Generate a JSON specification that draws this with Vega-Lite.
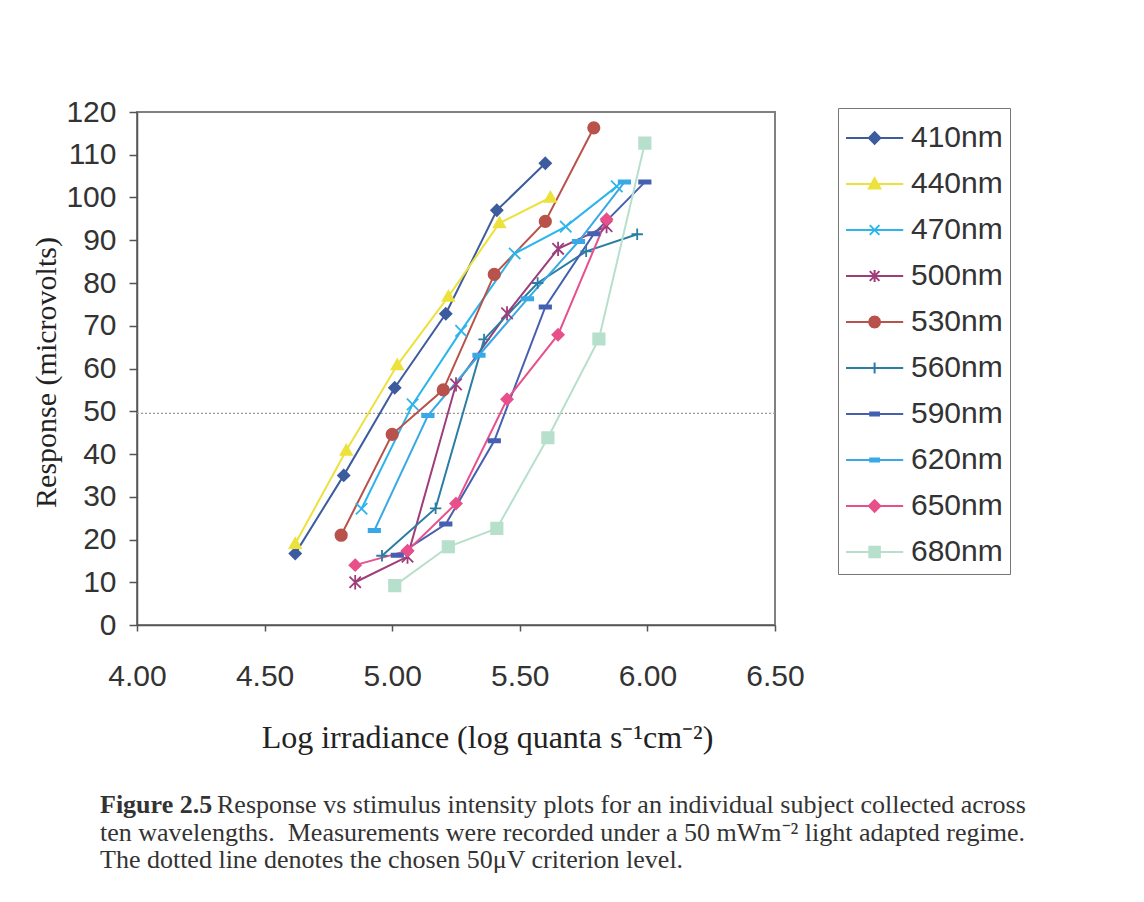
{
  "$schema": "https://vega.github.io/schema/vega-lite/v6.json",
  "width": 638,
  "height": 513,
  "autosize": {"type": "none"},
  "padding": {"left": 137, "top": 112, "right": 369, "bottom": 277},
  "background": "white",
  "config": {
    "view": {"stroke": "#808080", "strokeWidth": 2},
    "axis": {"grid": false}
  },
  "title": {
    "text": "Figure 2.5",
    "subtitle": [
      "\u200b\u00a0\u00a0\u00a0\u00a0\u00a0\u00a0\u00a0\u00a0\u00a0\u00a0\u00a0\u00a0\u00a0\u00a0\u00a0\u00a0\u00a0\u00a0Response vs stimulus intensity plots for an individual subject collected across",
      "ten wavelengths.\u00a0 Measurements were recorded under a 50 mWm\u207b\u00b2 light adapted regime.",
      "The dotted line denotes the chosen 50\u03bcV criterion level."
    ],
    "orient": "bottom",
    "anchor": "start",
    "frame": "group",
    "dx": -37,
    "offset": 39,
    "font": "Liberation Serif",
    "fontSize": 26,
    "fontWeight": "bold",
    "color": "#333333",
    "subtitleFont": "Liberation Serif",
    "subtitleFontSize": 26,
    "subtitleFontWeight": "normal",
    "subtitleColor": "#333333",
    "subtitlePadding": -26,
    "subtitleLineHeight": 27.5
  },
  "data": {
    "values": [
      {"w": "410nm", "x": 4.62, "y": 16.7}, {"w": "410nm", "x": 4.81, "y": 35.0}, {"w": "410nm", "x": 5.01, "y": 55.5}, {"w": "410nm", "x": 5.21, "y": 72.8}, {"w": "410nm", "x": 5.41, "y": 97.0}, {"w": "410nm", "x": 5.60, "y": 108.0},
      {"w": "440nm", "x": 4.62, "y": 19.0}, {"w": "440nm", "x": 4.82, "y": 40.8}, {"w": "440nm", "x": 5.02, "y": 60.8}, {"w": "440nm", "x": 5.22, "y": 76.8}, {"w": "440nm", "x": 5.42, "y": 94.0}, {"w": "440nm", "x": 5.62, "y": 100.0},
      {"w": "470nm", "x": 4.88, "y": 27.2}, {"w": "470nm", "x": 5.08, "y": 51.6}, {"w": "470nm", "x": 5.27, "y": 68.8}, {"w": "470nm", "x": 5.48, "y": 86.9}, {"w": "470nm", "x": 5.68, "y": 93.2}, {"w": "470nm", "x": 5.88, "y": 102.6},
      {"w": "500nm", "x": 4.855, "y": 10.0}, {"w": "500nm", "x": 5.06, "y": 16.0}, {"w": "500nm", "x": 5.25, "y": 56.3}, {"w": "500nm", "x": 5.45, "y": 72.9}, {"w": "500nm", "x": 5.65, "y": 88.0}, {"w": "500nm", "x": 5.84, "y": 93.3},
      {"w": "530nm", "x": 4.80, "y": 21.0}, {"w": "530nm", "x": 5.00, "y": 44.6}, {"w": "530nm", "x": 5.20, "y": 55.0}, {"w": "530nm", "x": 5.40, "y": 82.0}, {"w": "530nm", "x": 5.60, "y": 94.4}, {"w": "530nm", "x": 5.79, "y": 116.3},
      {"w": "560nm", "x": 4.96, "y": 16.2}, {"w": "560nm", "x": 5.17, "y": 27.3}, {"w": "560nm", "x": 5.36, "y": 66.8}, {"w": "560nm", "x": 5.57, "y": 80.0}, {"w": "560nm", "x": 5.76, "y": 87.4}, {"w": "560nm", "x": 5.96, "y": 91.4},
      {"w": "590nm", "x": 5.02, "y": 16.3}, {"w": "590nm", "x": 5.21, "y": 23.6}, {"w": "590nm", "x": 5.40, "y": 43.1}, {"w": "590nm", "x": 5.60, "y": 74.4}, {"w": "590nm", "x": 5.79, "y": 91.5}, {"w": "590nm", "x": 5.99, "y": 103.6},
      {"w": "620nm", "x": 4.93, "y": 22.1}, {"w": "620nm", "x": 5.14, "y": 49.0}, {"w": "620nm", "x": 5.34, "y": 63.1}, {"w": "620nm", "x": 5.53, "y": 76.3}, {"w": "620nm", "x": 5.73, "y": 89.7}, {"w": "620nm", "x": 5.91, "y": 103.6},
      {"w": "650nm", "x": 4.855, "y": 14.0}, {"w": "650nm", "x": 5.06, "y": 17.4}, {"w": "650nm", "x": 5.25, "y": 28.4}, {"w": "650nm", "x": 5.45, "y": 52.8}, {"w": "650nm", "x": 5.65, "y": 67.9}, {"w": "650nm", "x": 5.84, "y": 94.9},
      {"w": "680nm", "x": 5.01, "y": 9.2}, {"w": "680nm", "x": 5.22, "y": 18.3}, {"w": "680nm", "x": 5.41, "y": 22.6}, {"w": "680nm", "x": 5.61, "y": 43.8}, {"w": "680nm", "x": 5.81, "y": 66.9}, {"w": "680nm", "x": 5.99, "y": 112.7}
    ]
  },
  "encoding": {
    "x": {
      "field": "x", "type": "quantitative",
      "scale": {"domain": [4, 6.5], "nice": false, "zero": false},
      "axis": {
        "values": [4, 4.5, 5, 5.5, 6, 6.5], "format": ".2f", "labelFlush": false, "labelOverlap": false,
        "labelFont": "Liberation Sans", "labelFontSize": 30, "labelColor": "#333333",
        "labelPadding": 30, "tickSize": 6, "tickColor": "#555555", "tickWidth": 1.5,
        "domainColor": "#555555", "domainWidth": 1.5,
        "title": "Log irradiance (log quanta s\u207b\u00b9cm\u207b\u00b2)",
        "titleFont": "Liberation Serif", "titleFontSize": 32, "titleFontWeight": "normal", "titleColor": "#222222",
        "titleX": 350, "titleY": 122, "titleAlign": "center", "titleBaseline": "alphabetic"
      }
    },
    "y": {
      "field": "y", "type": "quantitative",
      "scale": {"domain": [0, 120], "nice": false},
      "axis": {
        "values": [0, 10, 20, 30, 40, 50, 60, 70, 80, 90, 100, 110, 120], "format": "d", "labelFlush": false, "labelOverlap": false,
        "labelFont": "Liberation Sans", "labelFontSize": 30, "labelColor": "#333333",
        "labelPadding": 13, "tickSize": 8, "tickColor": "#555555", "tickWidth": 1.5,
        "domainColor": "#555555", "domainWidth": 1.5,
        "title": "Response (microvolts)",
        "titleFont": "Liberation Serif", "titleFontSize": 30, "titleFontWeight": "normal", "titleColor": "#222222",
        "titleX": -82, "titleY": 260, "titleAngle": 270, "titleAlign": "center", "titleBaseline": "alphabetic"
      }
    }
  },
  "layer": [
    {
      "data": {"values": [{"criterion": 49.5}]},
      "mark": {"type": "rule", "strokeDash": [2, 2], "color": "#9a9a9a", "strokeWidth": 1.2},
      "encoding": {"y": {"field": "criterion", "type": "quantitative"}, "x": null}
    },
    {
      "mark": {"type": "line", "strokeWidth": 2},
      "encoding": {
        "color": {
          "field": "w", "type": "nominal", "legend": null,
          "scale": {
            "domain": ["410nm", "440nm", "470nm", "500nm", "530nm", "560nm", "590nm", "620nm", "650nm", "680nm"],
            "range": ["#3D5C9E", "#EDE13C", "#2BB5EC", "#9E3D7A", "#B8524A", "#2B7DA3", "#4660B0", "#39A9E6", "#E8508C", "#B7E0CC"]
          }
        }
      }
    },
    {
      "mark": {"type": "point", "filled": true, "opacity": 1, "size": 130, "strokeWidth": 1.8},
      "encoding": {
        "fill": {
          "field": "w", "type": "nominal", "legend": null,
          "scale": {
            "domain": ["410nm", "440nm", "470nm", "500nm", "530nm", "560nm", "590nm", "620nm", "650nm", "680nm"],
            "range": ["#3D5C9E", "#EDE13C", "#2BB5EC", "#9E3D7A", "#B8524A", "#2B7DA3", "#4660B0", "#39A9E6", "#E8508C", "#B7E0CC"]
          }
        },
        "stroke": {
          "field": "w", "type": "nominal", "legend": null,
          "scale": {
            "domain": ["410nm", "440nm", "470nm", "500nm", "530nm", "560nm", "590nm", "620nm", "650nm", "680nm"],
            "range": ["#3D5C9E", "#EDE13C", "#2BB5EC", "#9E3D7A", "#B8524A", "#2B7DA3", "#4660B0", "#39A9E6", "#E8508C", "#B7E0CC"]
          }
        },
        "shape": {
          "field": "w", "type": "nominal", "legend": null,
          "scale": {
            "domain": ["410nm", "440nm", "470nm", "500nm", "530nm", "560nm", "590nm", "620nm", "650nm", "680nm"],
            "range": [
              "M0,-1L1,0L0,1L-1,0Z",
              "M0,-1L1,0.75L-1,0.75Z",
              "M-1,-1L1,1M1,-1L-1,1",
              "M-1,-1L1,1M1,-1L-1,1M0,-1.25L0,1.25",
              "circle",
              "M0,-1L0,1M-1,0L1,0",
              "M-1,-0.28L1,-0.28L1,0.28L-1,0.28Z",
              "M-1,-0.28L1,-0.28L1,0.28L-1,0.28Z",
              "M0,-1L1,0L0,1L-1,0Z",
              "square"
            ]
          }
        }
      }
    },
    {
      "transform": [{"filter": "false"}],
      "mark": {"type": "point", "filled": true, "opacity": 1, "strokeWidth": 2},
      "encoding": {
        "fill": {
          "field": "w", "type": "nominal",
          "scale": {
            "domain": ["410nm", "440nm", "470nm", "500nm", "530nm", "560nm", "590nm", "620nm", "650nm", "680nm"],
            "range": ["#3D5C9E", "#EDE13C", "#2BB5EC", "#9E3D7A", "#B8524A", "#2B7DA3", "#4660B0", "#39A9E6", "#E8508C", "#B7E0CC"]
          },
          "legend": {"orient": "none", "legendX": 701, "legendY": -4, "title": null, "padding": 7, "strokeColor": "#777777", "fillColor": "white", "rowPadding": 8, "symbolSize": 1936, "symbolStrokeWidth": 2, "symbolOpacity": 1, "labelFont": "Liberation Sans", "labelFontSize": 30, "labelColor": "#333333", "labelOffset": 20, "labelLimit": 300}
        },
        "stroke": {
          "field": "w", "type": "nominal",
          "scale": {
            "domain": ["410nm", "440nm", "470nm", "500nm", "530nm", "560nm", "590nm", "620nm", "650nm", "680nm"],
            "range": ["#3D5C9E", "#EDE13C", "#2BB5EC", "#9E3D7A", "#B8524A", "#2B7DA3", "#4660B0", "#39A9E6", "#E8508C", "#B7E0CC"]
          },
          "legend": {"orient": "none", "legendX": 701, "legendY": -4, "title": null, "padding": 7, "strokeColor": "#777777", "fillColor": "white", "rowPadding": 8, "symbolSize": 1936, "symbolStrokeWidth": 2, "symbolOpacity": 1, "labelFont": "Liberation Sans", "labelFontSize": 30, "labelColor": "#333333", "labelOffset": 20, "labelLimit": 300}
        },
        "shape": {
          "field": "w", "type": "nominal",
          "scale": {
            "domain": ["410nm", "440nm", "470nm", "500nm", "530nm", "560nm", "590nm", "620nm", "650nm", "680nm"],
            "range": [
              "M-1,0L1.6,0M0.3,-0.26L0.56,0L0.3,0.26L0.04,0Z",
              "M-1,0L1.6,0M0.3,-0.26L0.56,0.2L0.04,0.2Z",
              "M-1,0L1.6,0M0.08,-0.22L0.52,0.22M0.52,-0.22L0.08,0.22",
              "M-1,0L1.6,0M0.08,-0.22L0.52,0.22M0.52,-0.22L0.08,0.22M0.3,-0.27L0.3,0.27",
              "M-1,0L1.6,0M0.55,0L0.5165,0.125L0.425,0.2165L0.3,0.25L0.175,0.2165L0.0835,0.125L0.05,0L0.0835,-0.125L0.175,-0.2165L0.3,-0.25L0.425,-0.2165L0.5165,-0.125Z",
              "M-1,0L1.6,0M0.3,-0.25L0.3,0.25",
              "M-1,0L1.6,0M0.1,-0.07L0.5,-0.07L0.5,0.07L0.1,0.07Z",
              "M-1,0L1.6,0M0.1,-0.07L0.5,-0.07L0.5,0.07L0.1,0.07Z",
              "M-1,0L1.6,0M0.3,-0.26L0.56,0L0.3,0.26L0.04,0Z",
              "M-1,0L1.6,0M0.06,-0.24L0.54,-0.24L0.54,0.24L0.06,0.24Z"
            ]
          },
          "legend": {"orient": "none", "legendX": 701, "legendY": -4, "title": null, "padding": 7, "strokeColor": "#777777", "fillColor": "white", "rowPadding": 8, "symbolSize": 1936, "symbolStrokeWidth": 2, "symbolOpacity": 1, "labelFont": "Liberation Sans", "labelFontSize": 30, "labelColor": "#333333", "labelOffset": 20, "labelLimit": 300}
        }
      }
    }
  ],
  "resolve": {"scale": {"color": "independent", "fill": "independent", "stroke": "independent", "shape": "independent"}}
}
